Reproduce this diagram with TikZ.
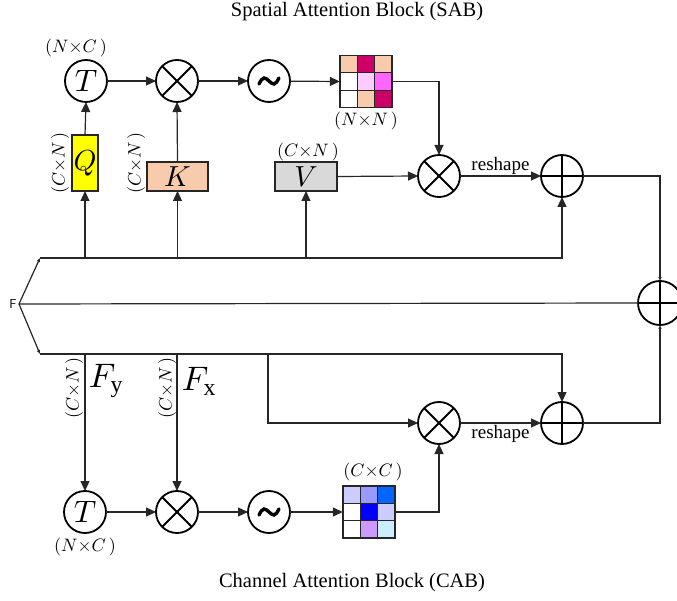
\documentclass[tikz,border=0pt]{standalone}
\usepackage{fontspec}
\setmainfont{Liberation Serif}
\DeclareFontShape{OML}{cmm}{m}{it}{<->cmmi10}{}
\DeclareFontShape{OMS}{cmsy}{m}{n}{<->cmsy10}{}
\DeclareFontShape{OT1}{cmr}{m}{n}{<->cmr10}{}
\usetikzlibrary{arrows.meta,calc}
\definecolor{peach}{HTML}{F8CBAD}
\definecolor{crimson}{HTML}{CC0066}
\definecolor{lpink}{HTML}{FFCCFF}
\definecolor{magen}{HTML}{FF66FF}
\definecolor{lav}{HTML}{CCCCFF}
\definecolor{mlav}{HTML}{9999FF}
\definecolor{mblue}{HTML}{0066FF}
\definecolor{dblue}{HTML}{0000FF}
\definecolor{lpurp}{HTML}{CC99FF}
\definecolor{lcyan}{HTML}{CCECFF}
\definecolor{qyel}{HTML}{FFFF00}
\definecolor{vgray}{HTML}{D9D9D9}
\definecolor{lin}{HTML}{262626}
\tikzset{
  circ/.style={circle, draw=black, line width=1.8pt, minimum size=42pt, inner sep=0pt, outer sep=0pt},
  otimes/.style={circ, path picture={\draw[line width=1.8pt] (path picture bounding box.north west)--(path picture bounding box.south east) (path picture bounding box.north east)--(path picture bounding box.south west);}},
  oplus/.style={circ, path picture={\draw[line width=1.8pt] (path picture bounding box.north)--(path picture bounding box.south) (path picture bounding box.east)--(path picture bounding box.west);}},
  mbox/.style={draw=lin, line width=1.2pt, inner sep=0pt, outer sep=0pt},
  cell/.style={draw=lin, line width=1.2pt, minimum size=17.33pt, inner sep=0pt, outer sep=0pt},
  conn/.style={draw=lin, line width=1.2pt},
  arr/.style={conn, -{Triangle[length=10pt,width=9pt]}},
  sarr/.style={conn, -{Triangle[length=4pt,width=3pt]}},
  dimlbl/.style={font=\fontsize{18}{18}\selectfont, inner sep=0pt},
  ttl/.style={font=\fontsize{20.5}{20.5}\selectfont},
  letter/.style={font=\fontsize{29}{29}\selectfont},
  rsh/.style={font=\fontsize{19}{19}\selectfont}
}
\begin{document}
\begin{tikzpicture}[x=1pt,y=-1pt]
\useasboundingbox (0,0) rectangle (677,601);
% titles
\node[ttl] (tS) at (357,12) {Spatial Attention Block (SAB)};
\node[ttl] (tC) at (352,583) {Channel Attention Block (CAB)};
% top row
\node[circ] (T1) at (86,81) {\fontsize{31}{31}\selectfont$T$};
\node[otimes] (M1) at (177,81) {};
\node[circ] (S1) at (269,81) {};
\draw[line width=3.4pt, line cap=round] ($(S1)+(-10,3)$) sin ($(S1)+(-5,-3)$) cos ($(S1)+(0,0)$) sin ($(S1)+(5,3)$) cos ($(S1)+(10,-3)$);
\node[inner sep=0pt, minimum size=52pt] (A1) at (366,81.5) {};
\foreach \c/\r/\col in {0/0/peach,1/0/crimson,2/0/peach,0/1/white,1/1/lpink,2/1/magen,0/2/white,1/2/peach,2/2/crimson}{
  \node[cell, fill=\col] at ($(A1.center)+({(\c-1)*17.33},{(\r-1)*17.33})$) {};
}
\node[dimlbl] (lNN) at (366,121) {$(N{\times}N\,)$};
\node[dimlbl] (lNC1) at (76,48) {$(N{\times}C\,)$};
% Q K V
\node[mbox, fill=qyel, minimum width=26pt, minimum height=56pt] (Q) at (85,163) {};
\node[letter] at (Q) {$Q$};
\node[mbox, fill=peach, minimum width=61pt, minimum height=29pt] (K) at (177.5,176.5) {};
\node[letter] at (K) {$K$};
\node[mbox, fill=vgray, minimum width=62pt, minimum height=29pt] (V) at (306,176.5) {};
\node[letter] at (V) {$V$};
\node[dimlbl, rotate=90] (lCN1) at (60,163) {$(C{\times}N\,)$};
\node[dimlbl, rotate=90] (lCN2) at (136,163) {$(C{\times}N\,)$};
\node[dimlbl] (lCN3) at (308,152) {$(C{\times}N\,)$};
% middle row
\node[otimes] (M2) at (439,176) {};
\node[oplus] (P1) at (562,176) {};
\node[oplus, minimum size=44pt] (BP) at (660,303) {};
\node[otimes] (M3) at (439,423) {};
\node[oplus] (P2) at (562,423) {};
\node[font=\sffamily\fontsize{13}{13}\selectfont, inner sep=0pt] (F) at (13,304) {F};
\coordinate (Fp) at (19,304);
\coordinate (tL) at (40,258);
\coordinate (bL) at (40,354);
\coordinate (br) at (268,354);
% bottom row
\node[circ] (T2) at (85,512) {\fontsize{31}{31}\selectfont$T$};
\node[otimes] (M4) at (177,512) {};
\node[circ] (S2) at (269,512) {};
\draw[line width=3.4pt, line cap=round] ($(S2)+(-10,3)$) sin ($(S2)+(-5,-3)$) cos ($(S2)+(0,0)$) sin ($(S2)+(5,3)$) cos ($(S2)+(10,-3)$);
\node[inner sep=0pt, minimum size=52pt] (A2) at (369,512) {};
\foreach \c/\r/\col in {0/0/lav,1/0/mlav,2/0/mblue,0/1/white,1/1/dblue,2/1/lav,0/2/white,1/2/lpurp,2/2/lcyan}{
  \node[cell, fill=\col] at ($(A2.center)+({(\c-1)*17.33},{(\r-1)*17.33})$) {};
}
\node[dimlbl] (lCC) at (373,472) {$(C{\times}C\,)$};
\node[dimlbl] (lNC2) at (85,547) {$(N{\times}C\,)$};
\node[font=\fontsize{34}{34}\selectfont, inner sep=0pt] (Fy) at (106,381) {$F_{\mathrm{y}}$};
\node[font=\fontsize{34}{34}\selectfont, inner sep=0pt] (Fx) at (199,381) {$F_{\mathrm{x}}$};
\node[dimlbl, rotate=90] (lCN4) at (74,388) {$(C{\times}N\,)$};
\node[dimlbl, rotate=90] (lCN5) at (167,388) {$(C{\times}N\,)$};
% connectors top
\draw[arr] (T1) -- (M1);
\draw[arr] (M1) -- (S1);
\draw[arr] (S1) -- (A1.west);
\draw[arr] (A1.east) -| (M2.north);
\draw[arr] (Q.north) -- (T1.south);
\draw[arr] (K.north) -- (M1.south);
\draw[arr] (V.east) -- (M2.west);
\draw[arr] (M2) -- node[above, rsh, inner sep=1pt] {reshape} (P1);
\draw[arr] (tL) -| (P1.south);
\draw[arr] (Q.south |- tL) -- (Q.south);
\draw[arr] (K.south |- tL) -- (K.south);
\draw[arr] (V.south |- tL) -- (V.south);
\draw[sarr] (P1.east) -| (BP.north);
% F
\draw[conn] (Fp) -- (BP.west);
\draw[sarr] (Fp) -- (tL);
\draw[sarr] (Fp) -- (bL);
% bottom connectors
\draw[arr] (bL) -| (P2.north);
\draw[arr] (br) |- (M3.west);
\draw[arr] (M3) -- node[below, rsh, inner sep=2pt] {reshape} (P2);
\draw[sarr] (P2.east) -| (BP.south);
\draw[arr] (T2.north |- bL) -- (T2.north);
\draw[arr] (M4.north |- bL) -- (M4.north);
\draw[arr] (T2) -- (M4);
\draw[arr] (M4) -- (S2);
\draw[arr] (S2) -- (A2.west);
\draw[arr] (A2.east) -| (M3.south);
\end{tikzpicture}
\end{document}
